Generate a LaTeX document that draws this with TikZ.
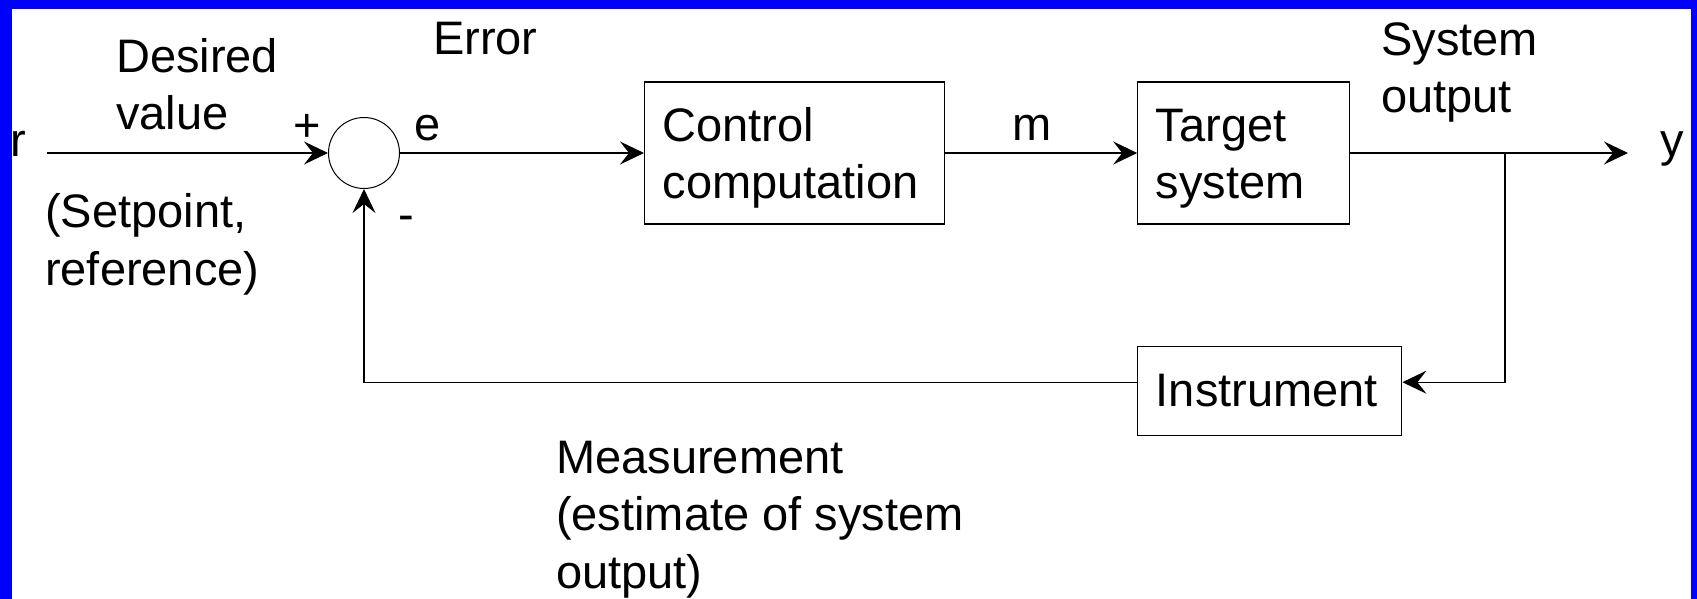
\documentclass[tikz,border=0pt]{standalone}
\usepackage{fontspec}
\setmainfont{Liberation Sans}
\usetikzlibrary{arrows.meta,positioning,shapes.geometric}
\tikzset{
    >={Stealth[length=24pt,width=23pt,inset=9pt]},
    block/.style={
        rectangle,
        draw, line width=1.2pt,
        align=left,
        inner xsep=18pt,
        minimum height=142pt
    },
    twoline/.style={execute at begin node={\rule{0pt}{44pt}}},
    sumnode/.style={circle, draw, line width=1pt, minimum size=71pt, inner sep=0pt},
    lbl/.style={anchor=base west, align=left, inner sep=0pt},
    line/.style={draw, line width=1.1pt},
    font={\fontsize{47pt}{57.5pt}\selectfont},
}
\begin{document}
\begin{tikzpicture}[x=1pt,y=-1pt]
    \useasboundingbox (0,0) rectangle (1697,599);
    \fill[blue] (0,0) rectangle (1697,599);
    \fill[white] (12,9) rectangle (1691,599);

    \node[sumnode] (sum) at (364,153) {};
    \node[block, twoline, text width=264pt, right=244pt of sum] (ctrl) {Control\\computation};
    \node[block, twoline, text width=176pt, right=192pt of ctrl] (target) {Target\\system};
    \node[block, text width=228pt, minimum height=89pt,
          below=121pt of target.south west, anchor=north west] (instr) {Instrument};

    \coordinate (rstart) at (47,153);
    \coordinate (tap) at (1505,153);
    \coordinate (yend) at (1628,153);

    % labels (multi-line ones sit on their last line)
    \node[lbl] (r) at (10,157) {r};
    \node[lbl] (yout) at (1660,157) {y};
    \node[lbl] (desired) at (116,130) {Desired\\value};
    \node[lbl] (plus) at (293,142) {+};
    \node[lbl] (err) at (433,55) {Error};
    \node[lbl] (e) at (414,140) {e};
    \node[lbl] (minus) at (398,230) {-};
    \node[lbl] (setpt) at (45,285) {(Setpoint,\\reference)};
    \node[lbl] (m) at (1012,140) {m};
    \node[lbl] (sysout) at (1381,113) {System\\output};
    \node[lbl] (meas) at (556,588) {Measurement\\(estimate of system\\output)};

    \draw[line,->] (rstart) -- (sum);
    \draw[line,->] (sum) -- (ctrl);
    \draw[line,->] (ctrl) -- (target);
    \draw[line,->] (target) -- (yend);
    \draw[line,->] (tap) |- ([yshift=8.5pt]instr.east);
    \draw[line,->] ([yshift=8.5pt]instr.west) -| (sum);
\end{tikzpicture}
\end{document}
